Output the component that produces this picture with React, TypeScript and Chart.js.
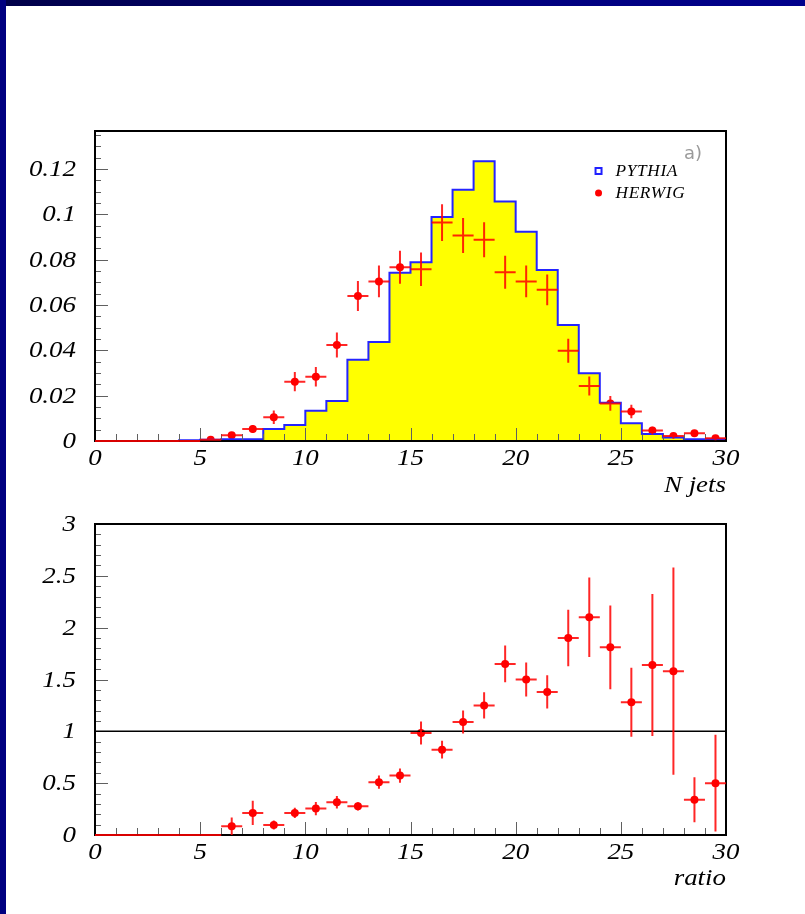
import React, { useEffect, useRef } from 'react';
import { Chart, registerables } from 'chart.js';

Chart.register(...registerables);

// ---------- data ----------
const binEdges = [0, 1, 2, 3, 4, 5, 6, 7, 8, 9, 10, 11, 12, 13, 14, 15, 16, 17, 18, 19, 20, 21, 22, 23, 24, 25, 26, 27, 28, 29, 30];
const binCenters = [0.5, 1.5, 2.5, 3.5, 4.5, 5.5, 6.5, 7.5, 8.5, 9.5, 10.5, 11.5, 12.5, 13.5, 14.5, 15.5, 16.5, 17.5, 18.5, 19.5, 20.5, 21.5, 22.5, 23.5, 24.5, 25.5, 26.5, 27.5, 28.5, 29.5];

const pythia = [0, 0, 0, 0, 0, 0.0003, 0.0006, 0.0008, 0.0008, 0.0053, 0.0071, 0.0133, 0.0177, 0.0358, 0.0437, 0.0743, 0.0789, 0.0988, 0.1109, 0.1234, 0.1057, 0.0923, 0.0755, 0.0512, 0.0299, 0.0169, 0.0078, 0.0031, 0.0015, 0.0008];

const herwig = [0, 0, 0, 0, 0, 0.0006, 0.0025, 0.0053, 0.0105, 0.0262, 0.0284, 0.0424, 0.064, 0.0704, 0.0767, 0.0758, 0.0964, 0.0907, 0.0888, 0.0745, 0.0704, 0.0667, 0.0398, 0.0243, 0.0166, 0.013, 0.0046, 0.0022, 0.0034, 0.0012];
const herwigErr = [0, 0, 0, 0, 0, 0.0005, 0.0012, 0.0018, 0.003, 0.0043, 0.0043, 0.0055, 0.0066, 0.007, 0.0073, 0.0074, 0.0081, 0.0077, 0.0077, 0.0073, 0.007, 0.0068, 0.0053, 0.0042, 0.0033, 0.003, 0.0017, 0.0012, 0.0015, 0.0009];

const ratio = [0, 0, 0, 0, 0, 0, 0.084, 0.213, 0.097, 0.213, 0.255, 0.316, 0.277, 0.509, 0.573, 0.984, 0.823, 1.09, 1.25, 1.65, 1.5, 1.38, 1.9, 2.1, 1.81, 1.28, 1.64, 1.58, 0.341, 0.5];
const ratioErr = [0, 0, 0, 0, 0, 0, 0.084, 0.117, 0.043, 0.05, 0.064, 0.06, 0.04, 0.064, 0.068, 0.112, 0.085, 0.11, 0.127, 0.177, 0.165, 0.16, 0.273, 0.384, 0.405, 0.333, 0.685, 1.0, 0.217, 0.466];

const xTicks = [0, 5, 10, 15, 20, 25, 30];
const yTicksTop = [0, 0.02, 0.04, 0.06, 0.08, 0.1, 0.12];
const yTicksRatio = [0, 0.5, 1, 1.5, 2, 2.5, 3];
const legendLabels = ['PYTHIA', 'HERWIG'];

// ---------- helpers ----------
const SERIF = '"Liberation Serif", "Times New Roman", serif';
const STRETCH = 1.17;

function fmt(v: number) {
  return String(Math.round(v * 1000) / 1000);
}

function stretchText(ctx: CanvasRenderingContext2D, text: string, x: number, y: number, align: CanvasTextAlign, sx: number) {
  ctx.save();
  ctx.translate(x, y);
  ctx.scale(sx, 1);
  ctx.textAlign = align;
  ctx.textBaseline = 'middle';
  ctx.fillText(text, 0, 0);
  ctx.restore();
}

function drawTickLabels(chart: any, yTicks: number[]) {
  const { ctx, chartArea: a, scales } = chart;
  const x = scales.x, y = scales.y;
  ctx.save();
  ctx.fillStyle = '#000';
  ctx.font = 'italic 23px ' + SERIF;
  xTicks.forEach((v) => stretchText(ctx, fmt(v), x.getPixelForValue(v), a.bottom + 18, 'center', STRETCH));
  yTicks.forEach((v) => stretchText(ctx, fmt(v), a.left - 19, y.getPixelForValue(v) + 1, 'right', STRETCH));
  ctx.restore();
}

function drawFrameAndTicks(chart: any, yMinor: number, yMajorEvery: number, yMax: number) {
  const { ctx, chartArea: a, scales } = chart;
  const x = scales.x, y = scales.y;
  ctx.save();
  ctx.strokeStyle = '#606060';
  ctx.lineWidth = 1;
  ctx.beginPath();
  for (let i = 0; i <= 30; i++) {
    const px = Math.round(x.getPixelForValue(i)) + 0.5;
    const len = i % 5 === 0 ? 13 : 7;
    ctx.moveTo(px, a.bottom);
    ctx.lineTo(px, a.bottom - len);
  }
  for (let k = 0; k * yMinor <= yMax + 1e-9; k++) {
    const py = Math.round(y.getPixelForValue(k * yMinor)) + 0.5;
    const len = k % yMajorEvery === 0 ? 13 : 6;
    ctx.moveTo(a.left, py);
    ctx.lineTo(a.left + len, py);
  }
  ctx.stroke();
  ctx.strokeStyle = '#000';
  ctx.lineWidth = 2;
  ctx.strokeRect(a.left, a.top, a.right - a.left, a.bottom - a.top);
  ctx.restore();
}

function drawErrors(chart: any, dsIndex: number, errs: number[]) {
  const { ctx, chartArea: a, scales } = chart;
  const x = scales.x, y = scales.y;
  const data = chart.data.datasets[dsIndex].data as { x: number; y: number }[];
  ctx.save();
  ctx.beginPath();
  ctx.rect(a.left, a.top, a.right - a.left, a.bottom - a.top + 2);
  ctx.clip();
  ctx.strokeStyle = 'rgba(255,0,0,0.85)';
  ctx.lineWidth = 2;
  data.forEach((p, i) => {
    const px = x.getPixelForValue(p.x);
    const py = y.getPixelForValue(p.y);
    ctx.beginPath();
    ctx.moveTo(x.getPixelForValue(p.x - 0.5), py);
    ctx.lineTo(x.getPixelForValue(p.x + 0.5), py);
    if (errs[i] > 0) {
      ctx.moveTo(px, y.getPixelForValue(p.y - errs[i]));
      ctx.lineTo(px, y.getPixelForValue(p.y + errs[i]));
    }
    ctx.stroke();
  });
  ctx.restore();
}

function axisTitle(chart: any, text: string, yPos: number) {
  const { ctx, chartArea: a } = chart;
  ctx.save();
  ctx.font = 'italic 23px ' + SERIF;
  ctx.fillStyle = '#000';
  stretchText(ctx, text, a.right, yPos, 'right', STRETCH);
  ctx.restore();
}

function scaleOpts(min: number, max: number, ticks: number[], isX: boolean, fit: number) {
  return {
    type: 'linear' as const,
    min,
    max,
    afterFit: (s: any) => {
      if (isX) s.height = fit;
      else s.width = fit;
    },
    afterBuildTicks: (s: any) => {
      s.ticks = ticks.map((v) => ({ value: v }));
    },
    ticks: { display: false, includeBounds: false },
    grid: { display: false, drawTicks: false },
    border: { display: false },
  };
}

export default function App() {
  const topRef = useRef<HTMLCanvasElement>(null);
  const botRef = useRef<HTMLCanvasElement>(null);

  useEffect(() => {
    const topPlugin = {
      id: 'topDecor',
      afterDatasetsDraw(chart: any) {
        drawFrameAndTicks(chart, 0.005, 4, 0.1368);
        drawErrors(chart, 1, herwigErr);
      },
      afterDraw(chart: any) {
        const { ctx, chartArea: a } = chart;
        drawTickLabels(chart, yTicksTop);
        const lx = a.left + (a.right - a.left) * 0.798;
        const ly1 = a.top + 40;
        const ly2 = a.top + 62;
        ctx.save();
        ctx.strokeStyle = '#2020ff';
        ctx.lineWidth = 2;
        ctx.strokeRect(lx - 3, ly1 - 3, 6, 6);
        ctx.fillStyle = '#ff0000';
        ctx.beginPath();
        ctx.arc(lx, ly2, 3.5, 0, Math.PI * 2);
        ctx.fill();
        ctx.fillStyle = '#000';
        ctx.font = 'italic 16px ' + SERIF;
        (ctx as any).letterSpacing = '0.6px';
        stretchText(ctx, legendLabels[0], lx + 17, ly1 + 1, 'left', 1.08);
        stretchText(ctx, legendLabels[1], lx + 17, ly2 + 1, 'left', 1.08);
        (ctx as any).letterSpacing = '0px';
        ctx.fillStyle = '#9a9a9a';
        ctx.font = '18px "DejaVu Sans", sans-serif';
        ctx.textAlign = 'left';
        ctx.textBaseline = 'middle';
        ctx.fillText('a)', a.right - 42, a.top + 23);
        ctx.restore();
        axisTitle(chart, 'N jets', 486);
      },
    };

    const botPlugin = {
      id: 'botDecor',
      afterDatasetsDraw(chart: any) {
        const { ctx, chartArea: a, scales } = chart;
        drawFrameAndTicks(chart, 0.1, 5, 3);
        const py = scales.y.getPixelForValue(1);
        ctx.save();
        ctx.strokeStyle = '#000';
        ctx.lineWidth = 1.5;
        ctx.beginPath();
        ctx.moveTo(a.left, py);
        ctx.lineTo(a.right, py);
        ctx.stroke();
        ctx.restore();
        drawErrors(chart, 0, ratioErr);
      },
      afterDraw(chart: any) {
        drawTickLabels(chart, yTicksRatio);
        axisTitle(chart, 'ratio', 879 - 491);
      },
    };

    const c1 = new Chart(topRef.current as HTMLCanvasElement, {
      type: 'scatter',
      data: {
        datasets: [
          {
            label: legendLabels[0],
            data: binEdges.map((e, i) => ({ x: e, y: pythia[Math.min(i, pythia.length - 1)] })),
            showLine: true,
            stepped: 'after',
            fill: 'origin',
            backgroundColor: '#ffff00',
            borderColor: '#2424ff',
            borderWidth: 2,
            pointRadius: 0,
          } as any,
          {
            label: legendLabels[1],
            data: binCenters.map((c, i) => ({ x: c, y: herwig[i] })),
            showLine: false,
            backgroundColor: '#ff0000',
            borderColor: '#ff0000',
            pointRadius: (ctx: any) => (ctx.raw && ctx.raw.y === 0 ? 0 : 4),
            borderWidth: 0,
          } as any,
        ],
      },
      options: {
        responsive: false,
        animation: false,
        layout: { padding: { top: 131, right: 79, left: 0, bottom: 0 } },
        plugins: { legend: { display: false }, tooltip: { enabled: false } },
        scales: {
          x: scaleOpts(0, 30, xTicks, true, 69),
          y: scaleOpts(0, 0.1368, yTicksTop, false, 95),
        },
      } as any,
      plugins: [topPlugin],
    });

    const c2 = new Chart(botRef.current as HTMLCanvasElement, {
      type: 'scatter',
      data: {
        datasets: [
          {
            label: 'ratio',
            data: binCenters.map((c, i) => ({ x: c, y: ratio[i] })),
            showLine: false,
            backgroundColor: '#ff0000',
            borderColor: '#ff0000',
            pointRadius: (ctx: any) => (ctx.raw && ctx.raw.y === 0 ? 0 : 4),
            borderWidth: 0,
          } as any,
        ],
      },
      options: {
        responsive: false,
        animation: false,
        layout: { padding: { top: 33, right: 79, left: 0, bottom: 0 } },
        plugins: { legend: { display: false }, tooltip: { enabled: false } },
        scales: {
          x: scaleOpts(0, 30, xTicks, true, 79),
          y: scaleOpts(0, 3, yTicksRatio, false, 95),
        },
      } as any,
      plugins: [botPlugin],
    });

    return () => {
      c1.destroy();
      c2.destroy();
    };
  }, []);

  return (
    <div style={{ position: 'fixed', left: 0, top: 0, width: 805, height: 914, background: '#ffffff', overflow: 'hidden' }}>
      <div style={{ position: 'absolute', left: 0, top: 0, width: 805, height: 6, background: 'linear-gradient(to right, #000048, #000078 50%, #00008c)' }} />
      <div style={{ position: 'absolute', left: 0, top: 0, width: 6, height: 914, background: '#000080' }} />
      <div style={{ position: 'absolute', left: 0, top: 0, width: 805, height: 510 }}>
        <canvas ref={topRef} width={805} height={510} style={{ display: 'block' }} />
      </div>
      <div style={{ position: 'absolute', left: 0, top: 491, width: 805, height: 423 }}>
        <canvas ref={botRef} width={805} height={423} style={{ display: 'block' }} />
      </div>
    </div>
  );
}
